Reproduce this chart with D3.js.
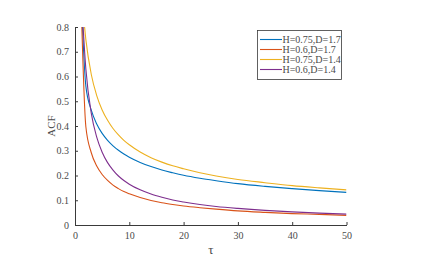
<!DOCTYPE html>
<html>
<head>
<meta charset="utf-8">
<script src="https://cdn.jsdelivr.net/npm/d3@7"></script>
<style>
  body { margin: 0; background: #fff; }
  text { font-family: "Liberation Serif", "DejaVu Serif", serif; }
</style>
</head>
<body>
<svg id="chart" width="421" height="276"></svg>
<script>
// lag values (x axis) where the curves were read
const lags = [1, 2, 3, 4, 5, 6, 7, 8, 9, 10, 12, 14, 16, 18, 20, 23, 26, 30, 35, 40, 45, 50];

// ACF values, one array per curve
const acfBlue   = [1, 0.561, 0.464, 0.408, 0.370, 0.342, 0.320, 0.302, 0.287, 0.274, 0.253, 0.236, 0.222, 0.211, 0.201, 0.189, 0.179, 0.167, 0.156, 0.147, 0.139, 0.132];
const acfOrange = [1, 0.397, 0.292, 0.238, 0.204, 0.180, 0.161, 0.147, 0.135, 0.126, 0.111, 0.099, 0.090, 0.083, 0.077, 0.070, 0.064, 0.057, 0.051, 0.046, 0.043, 0.039];
const acfYellow = [1, 0.749, 0.608, 0.523, 0.465, 0.423, 0.390, 0.364, 0.342, 0.324, 0.295, 0.272, 0.254, 0.239, 0.227, 0.211, 0.198, 0.184, 0.171, 0.159, 0.150, 0.142];
const acfPurple = [1, 0.630, 0.451, 0.355, 0.294, 0.252, 0.222, 0.198, 0.180, 0.165, 0.142, 0.125, 0.112, 0.101, 0.093, 0.083, 0.075, 0.067, 0.059, 0.053, 0.048, 0.044];

const seriesNames = ["H=0.75,D=1.7", "H=0.6,D=1.7", "H=0.75,D=1.4", "H=0.6,D=1.4"];
const seriesColors = ["#0072BD", "#D95319", "#EDB120", "#7E2F8E"];

const xTicks = [0, 10, 20, 30, 40, 50];
const yTicks = [0, 0.1, 0.2, 0.3, 0.4, 0.5, 0.6, 0.7, 0.8];

const series = [acfBlue, acfOrange, acfYellow, acfPurple];

const svg = d3.select("#chart");
const plotLeft = 75, plotRight = 346.5, plotTop = 27, plotBottom = 225;
const axisColor = "#3a3a3a";
const textColor = "#4a4a4a";

const x = d3.scaleLinear().domain([0, 50]).range([plotLeft, plotRight]);
const y = d3.scaleLinear().domain([0, 0.8]).range([plotBottom, plotTop]);

svg.append("clipPath").attr("id", "plotclip")
    .append("rect")
    .attr("x", plotLeft).attr("y", plotTop)
    .attr("width", plotRight - plotLeft).attr("height", plotBottom - plotTop);

const line = d3.line()
    .x((d, i) => x(lags[i]))
    .y(d => y(d))
    .curve(d3.curveMonotoneX);

const plot = svg.append("g").attr("clip-path", "url(#plotclip)");

// draw in the same order as the legend
series.forEach((s, i) => {
    plot.append("path")
        .attr("d", line(s))
        .attr("fill", "none")
        .attr("stroke", seriesColors[i])
        .attr("stroke-width", 1.1);
});

// axes, ticks pointing inward
const xAxis = svg.append("g")
    .attr("transform", `translate(0,${plotBottom})`)
    .call(d3.axisBottom(x).tickValues(xTicks).tickSizeInner(-3).tickSizeOuter(0).tickPadding(7));

const yAxis = svg.append("g")
    .attr("transform", `translate(${plotLeft},0)`)
    .call(d3.axisLeft(y).tickValues(yTicks).tickFormat(d3.format("")).tickSizeInner(-3).tickSizeOuter(0).tickPadding(6));

[xAxis, yAxis].forEach(g => {
    g.attr("font-family", null);
    g.select(".domain").attr("stroke", axisColor).attr("stroke-width", 1);
    g.selectAll(".tick line").attr("stroke", axisColor);
    g.selectAll(".tick text")
        .attr("fill", textColor)
        .style("font-family", "'Liberation Serif', serif")
        .style("font-size", "10px");
});

svg.append("text")
    .attr("x", (plotLeft + plotRight) / 2)
    .attr("y", 254)
    .attr("text-anchor", "middle")
    .attr("fill", textColor)
    .style("font-size", "13px")
    .text("τ");

svg.append("text")
    .attr("transform", `translate(55,${(plotTop + plotBottom) / 2}) rotate(-90)`)
    .attr("text-anchor", "middle")
    .attr("fill", textColor)
    .style("font-size", "11px")
    .text("ACF");

// legend
const legend = svg.append("g");
legend.append("rect")
    .attr("x", 257.5).attr("y", 30.5)
    .attr("width", 84).attr("height", 49)
    .attr("fill", "#fff")
    .attr("stroke", axisColor)
    .attr("stroke-width", 0.8);

seriesNames.forEach((name, i) => {
    const ry = 39.5 + i * 10;
    legend.append("line")
        .attr("x1", 260).attr("x2", 282)
        .attr("y1", ry).attr("y2", ry)
        .attr("stroke", seriesColors[i])
        .attr("stroke-width", 1.1);
    legend.append("text")
        .attr("x", 282.5).attr("y", ry + 3.5)
        .attr("fill", textColor)
        .style("font-size", "10px")
        .text(name);
});
</script>
</body>
</html>
